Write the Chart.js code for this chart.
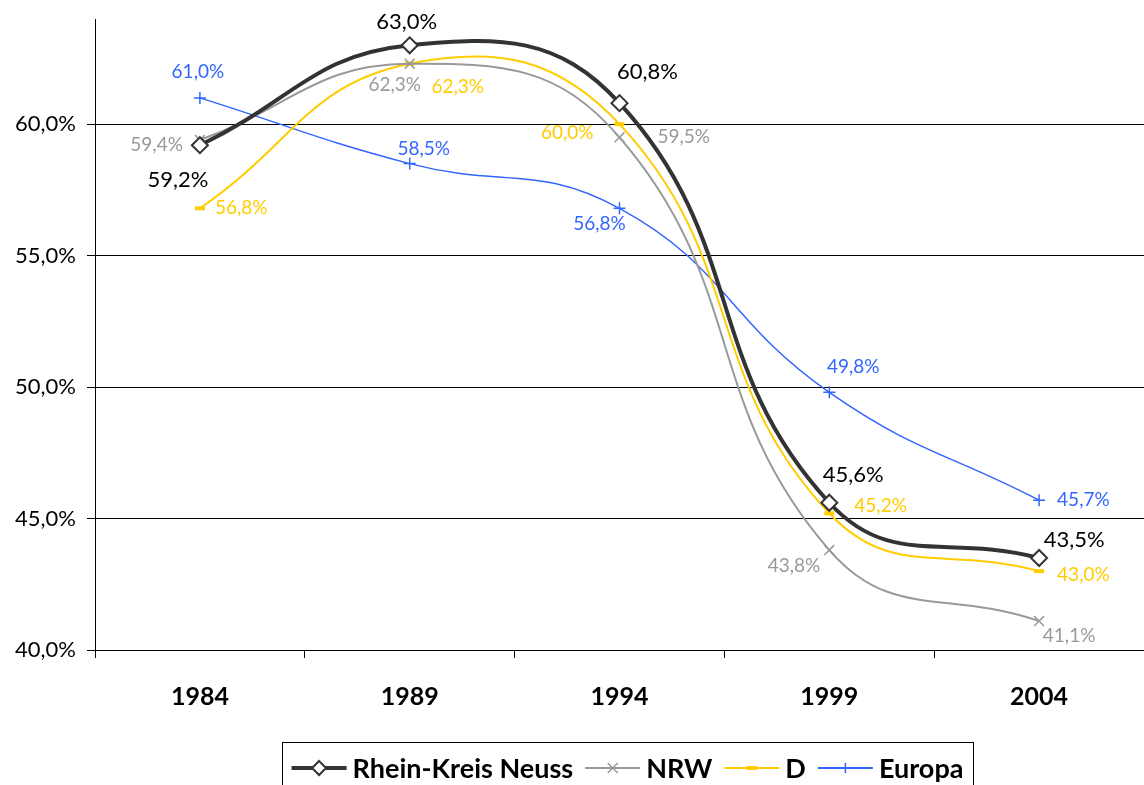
<!DOCTYPE html>
<html>
<head>
<meta charset="utf-8">
<script src="https://cdn.jsdelivr.net/npm/chart.js"></script>
<style>
  html, body { margin: 0; padding: 0; background: #fff; }
  #wrap { width: 1144px; height: 785px; overflow: hidden; }
</style>
</head>
<body>
<div id="wrap"><canvas id="wahlChart" width="1144" height="785"></canvas></div>
<script>
// Wahlbeteiligung Europawahl
const years = ["1984", "1989", "1994", "1999", "2004"];
const rkn = [59.2, 63.0, 60.8, 45.6, 43.5];
const nrw = [59.4, 62.3, 59.5, 43.8, 41.1];
const deu = [56.8, 62.3, 60.0, 45.2, 43.0];
const europa = [61.0, 58.5, 56.8, 49.8, 45.7];
const seriesNames = ["Rhein-Kreis Neuss", "NRW", "D", "Europa"];

const FONT = "Lato, 'Open Sans', sans-serif";

function pct(v) {
  return v.toFixed(1).replace(".", ",") + "%";
}

// label placement per point: [dx, dy, align]
const labelPlace = [
  [[-22, 35, "center"], [-3, -23, "center"], [28, -31, "center"], [24, -28, "center"], [35, -18, "center"]],
  [[-17, 5, "right"], [-15, 21, "center"], [38, 0, "left"], [-9, 16, "right"], [30, 15, "center"]],
  [[15, 0, "left"], [48, 23, "center"], [-26, 9, "right"], [25, -7, "left"], [18, 4, "left"]],
  [[-2, -26, "center"], [14, -15, "center"], [-20, 16, "center"], [24, -25, "center"], [18, 0, "left"]]
];
const labelColors = ["#000000", "#999999", "#FFCC00", "#3366FF"];
const labelSizes = [22, 19, 19, 19];

const valueLabels = {
  id: "valueLabels",
  afterDatasetsDraw(chart) {
    const ctx = chart.ctx;
    ctx.save();
    ctx.textBaseline = "middle";
    chart.data.datasets.forEach((ds, di) => {
      const meta = chart.getDatasetMeta(di);
      ctx.fillStyle = labelColors[di];
      ctx.font = labelSizes[di] + "px " + FONT;
      meta.data.forEach((pt, i) => {
        const p = labelPlace[di][i];
        ctx.textAlign = p[2];
        ctx.fillText(pct(ds.data[i]), pt.x + p[0], pt.y + p[1]);
      });
    });
    ctx.restore();
  }
};

function drawMarker(ctx, kind, x, y, color) {
  ctx.save();
  ctx.strokeStyle = color;
  if (kind === "diamond") {
    ctx.fillStyle = "#fff";
    ctx.lineWidth = 2;
    ctx.beginPath();
    ctx.moveTo(x, y - 7); ctx.lineTo(x + 7, y); ctx.lineTo(x, y + 7); ctx.lineTo(x - 7, y);
    ctx.closePath(); ctx.fill(); ctx.stroke();
  } else if (kind === "x") {
    ctx.lineWidth = 1.5;
    ctx.beginPath();
    ctx.moveTo(x - 5, y - 5); ctx.lineTo(x + 5, y + 5);
    ctx.moveTo(x + 5, y - 5); ctx.lineTo(x - 5, y + 5);
    ctx.stroke();
  } else if (kind === "dash") {
    ctx.fillStyle = color;
    ctx.fillRect(x - 5, y - 2, 10, 4);
  } else {
    ctx.lineWidth = 1.5;
    ctx.beginPath();
    ctx.moveTo(x - 5, y); ctx.lineTo(x + 5, y);
    ctx.moveTo(x, y - 5); ctx.lineTo(x, y + 5);
    ctx.stroke();
  }
  ctx.restore();
}

const legendBox = {
  id: "legendBox",
  afterDraw(chart) {
    const ctx = chart.ctx;
    const colors = ["#333333", "#999999", "#FFCC00", "#3366FF"];
    const widths = [4, 2, 2, 2];
    const kinds = ["diamond", "x", "dash", "plus"];
    ctx.save();
    ctx.font = "bold 27px " + FONT;
    const lineLen = 55, gapText = 6, gapItem = 12;
    let total = 0;
    const tw = seriesNames.map(n => ctx.measureText(n).width);
    tw.forEach((w, i) => { total += lineLen + gapText + w + (i > 0 ? gapItem : 0); });
    const boxL = 282, boxR = 973, boxT = 742;
    ctx.strokeStyle = "#000";
    ctx.lineWidth = 1;
    ctx.strokeRect(boxL + 0.5, boxT + 0.5, boxR - boxL, 60);
    let x = (boxL + boxR) / 2 - total / 2;
    const y = 768;
    ctx.textBaseline = "middle";
    ctx.textAlign = "left";
    seriesNames.forEach((n, i) => {
      if (i > 0) x += gapItem;
      ctx.strokeStyle = colors[i];
      ctx.lineWidth = widths[i];
      ctx.beginPath();
      ctx.moveTo(x, y); ctx.lineTo(x + lineLen, y);
      ctx.stroke();
      drawMarker(ctx, kinds[i], x + lineLen / 2, y, colors[i]);
      x += lineLen + gapText;
      ctx.fillStyle = "#000";
      ctx.fillText(n, x, y + 1);
      x += tw[i];
    });
    ctx.restore();
  }
};

new Chart(document.getElementById("wahlChart"), {
  type: "line",
  data: {
    labels: years,
    datasets: [
      {
        label: seriesNames[0], data: rkn,
        borderColor: "#333333", borderWidth: 4,
        pointStyle: "rectRot", pointRadius: 8, pointBorderWidth: 2,
        pointBackgroundColor: "#fff", pointBorderColor: "#333333"
      },
      {
        label: seriesNames[1], data: nrw,
        borderColor: "#999999", borderWidth: 2,
        pointStyle: "crossRot", pointRadius: 7, pointBorderWidth: 1.5,
        pointBorderColor: "#999999"
      },
      {
        label: seriesNames[2], data: deu,
        borderColor: "#FFCC00", borderWidth: 2,
        pointStyle: "line", pointRadius: 5, pointBorderWidth: 4,
        pointBorderColor: "#FFCC00"
      },
      {
        label: seriesNames[3], data: europa,
        borderColor: "#3366FF", borderWidth: 1.5,
        pointStyle: "cross", pointRadius: 6, pointBorderWidth: 1.5,
        pointBorderColor: "#3366FF"
      }
    ]
  },
  options: {
    responsive: false,
    animation: false,
    devicePixelRatio: 1,
    elements: { line: { tension: 0.45, fill: false } },
    layout: { autoPadding: false, padding: { top: 19, bottom: 55, left: 0, right: 0 } },
    plugins: {
      legend: { display: false },
      tooltip: { enabled: false }
    },
    scales: {
      x: {
        offset: true,
        grid: { offset: true, drawOnChartArea: false, color: "#000", tickLength: 8 },
        border: { display: true, color: "#000" },
        ticks: { color: "#000", padding: 24, font: { family: FONT, size: 25, weight: "bold" } },
        afterFit(scale) {
          scale.height = 80;
          scale.paddingLeft = 0;
          scale.paddingRight = 0;
        }
      },
      y: {
        min: 40, max: 64,
        grid: { color: "#000", lineWidth: 1, tickLength: 8 },
        border: { display: true, color: "#000" },
        ticks: {
          stepSize: 5, includeBounds: false, color: "#000", padding: 11,
          font: { family: FONT, size: 22 },
          callback: v => pct(v)
        },
        afterFit(scale) {
          scale.width = 95;
          scale.paddingTop = 0;
          scale.paddingBottom = 0;
        }
      }
    }
  },
  plugins: [valueLabels, legendBox]
});
</script>
</body>
</html>
